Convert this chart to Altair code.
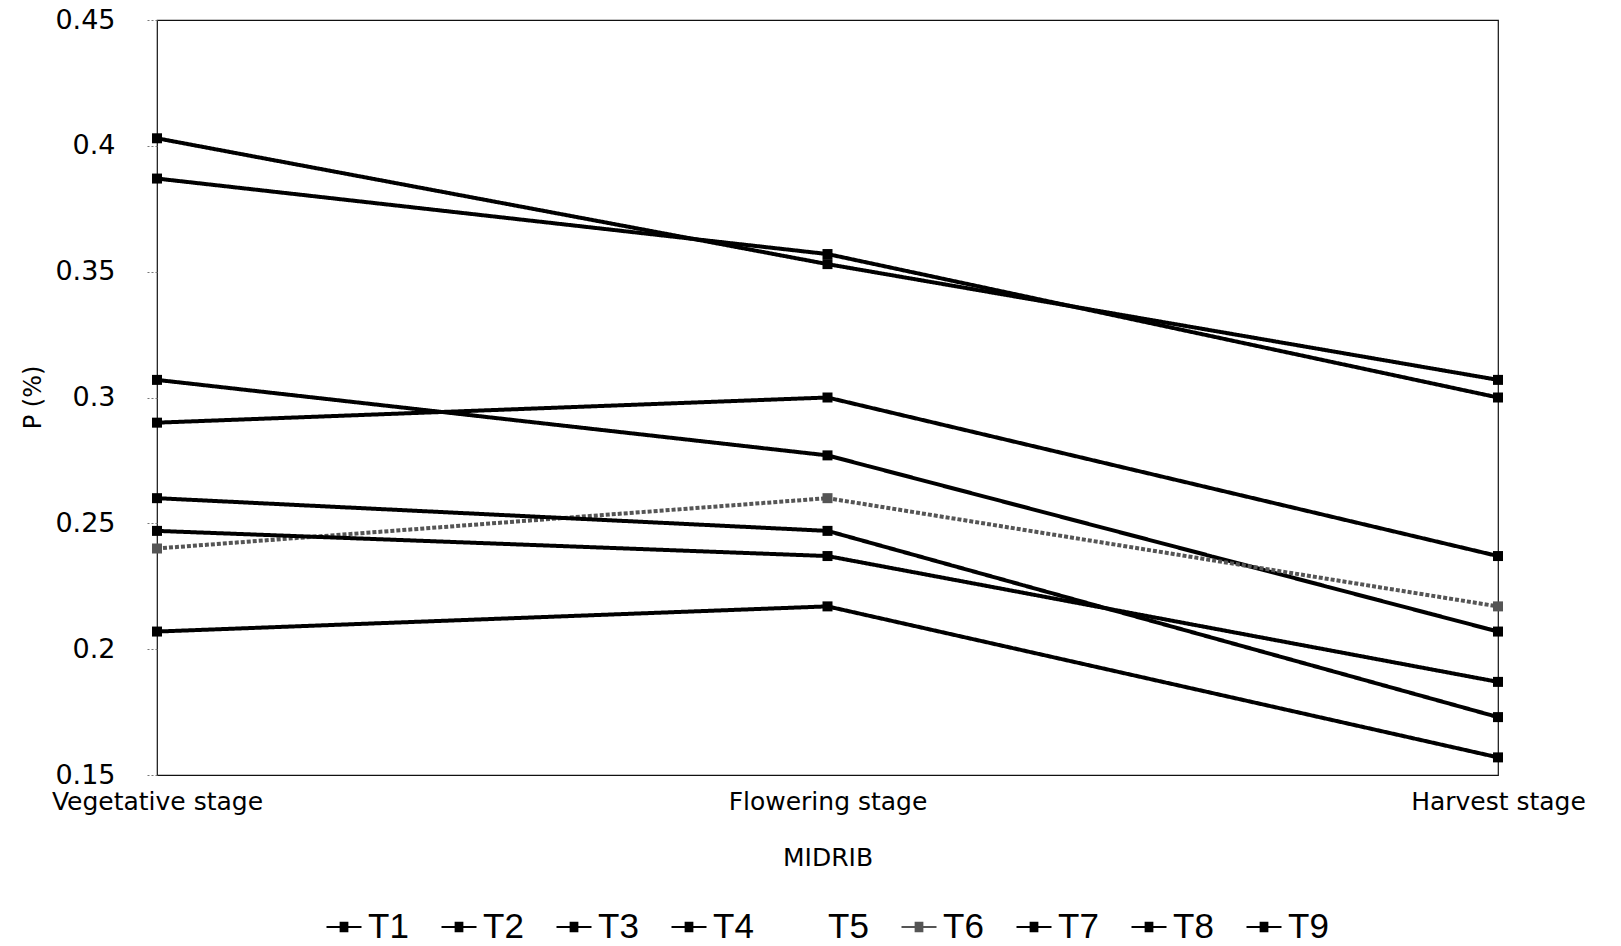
import altair as alt
import pandas as pd

stages = ["Vegetative stage", "Flowering stage", "Harvest stage"]
series = ["T1", "T2", "T3", "T4", "T5", "T6", "T7", "T8", "T9"]
values = {
    "T1": [0.403, 0.353, 0.307],
    "T2": [0.387, 0.357, 0.300],
    "T3": [0.307, 0.277, 0.207],
    "T4": [0.290, 0.300, 0.237],
    "T6": [0.240, 0.260, 0.217],
    "T7": [0.260, 0.247, 0.173],
    "T8": [0.247, 0.237, 0.187],
    "T9": [0.207, 0.217, 0.157],
}
colors = ["#000000", "#000000", "#000000", "#000000", "#ffffff",
          "#555555", "#000000", "#000000", "#000000"]
y_ticks = [0.15, 0.2, 0.25, 0.3, 0.35, 0.4, 0.45]

rows = []
for s, vals in values.items():
    for st, v in zip(stages, vals):
        rows.append({"Series": s, "Stage": st, "P": v})
df = pd.DataFrame(rows)

FONT = "DejaVu Sans"

# legend glyph: a line with a solid-looking square drawn from strokes
sq = "".join(f"M-0.25,{yy:.2f}L0.25,{yy:.2f}" for yy in [-0.24, -0.16, -0.08, 0.0, 0.08, 0.16, 0.24])
symbol_path = "M-1,0L1,0" + sq

x = alt.X("Stage:N", sort=stages,
          scale=alt.Scale(type="point", padding=0, domain=stages),
          axis=alt.Axis(title="MIDRIB", labelAngle=0, ticks=False, domain=False,
                        labelFont=FONT, labelFontSize=25, labelColor="#000",
                        labelPadding=14, labelLimit=0,
                        titleFont=FONT, titleFontSize=25, titleFontWeight="normal",
                        titleColor="#000", titleY=82, titleBaseline="middle"))
y = alt.Y("P:Q", scale=alt.Scale(domain=[0.15, 0.45], nice=False, zero=False),
          axis=alt.Axis(title="P (%)", values=y_ticks, format=".2~f", grid=False,
                        domain=False, tickSize=12, tickColor="#777", tickDash=[2, 2],
                        tickWidth=1,
                        labelFont=FONT, labelFontSize=27, labelColor="#000",
                        labelPadding=30,
                        titleFont=FONT, titleFontSize=24, titleFontWeight="normal",
                        titleColor="#000", titleX=-124, titleY=377,
                        titleAngle=270, titleAlign="center", titleBaseline="middle"))
color = alt.Color("Series:N",
                  scale=alt.Scale(domain=series, range=colors),
                  legend=alt.Legend(title=None, orient="none", direction="horizontal",
                                    columns=9, legendX=168, legendY=888,
                                    labelFont="Liberation Sans", labelFontSize=35,
                                    labelColor="#000", labelOffset=5,
                                    columnPadding=28,
                                    symbolType=symbol_path,
                                    symbolSize=1225, symbolStrokeWidth=2.2))

lines = alt.Chart(df).mark_line(strokeWidth=4).encode(
    x=x, y=y, color=color,
    strokeDash=alt.condition(alt.datum.Series == "T6", alt.value([4, 2]), alt.value([1, 0])),
    detail="Series:N",
)
points = alt.Chart(df).mark_point(shape="square", filled=True, size=100, opacity=1).encode(
    x=x, y=y, color=color,
)

chart = alt.layer(lines, points).properties(
    width=1341, height=755,
    autosize=alt.AutoSizeParams(type="none"),
    padding={"left": 157, "top": 20, "right": 123, "bottom": 171},
    background="white",
).configure_view(stroke="#111", strokeWidth=1.2)

chart.save("out.html", embed_options={"renderer": "svg", "actions": False})
